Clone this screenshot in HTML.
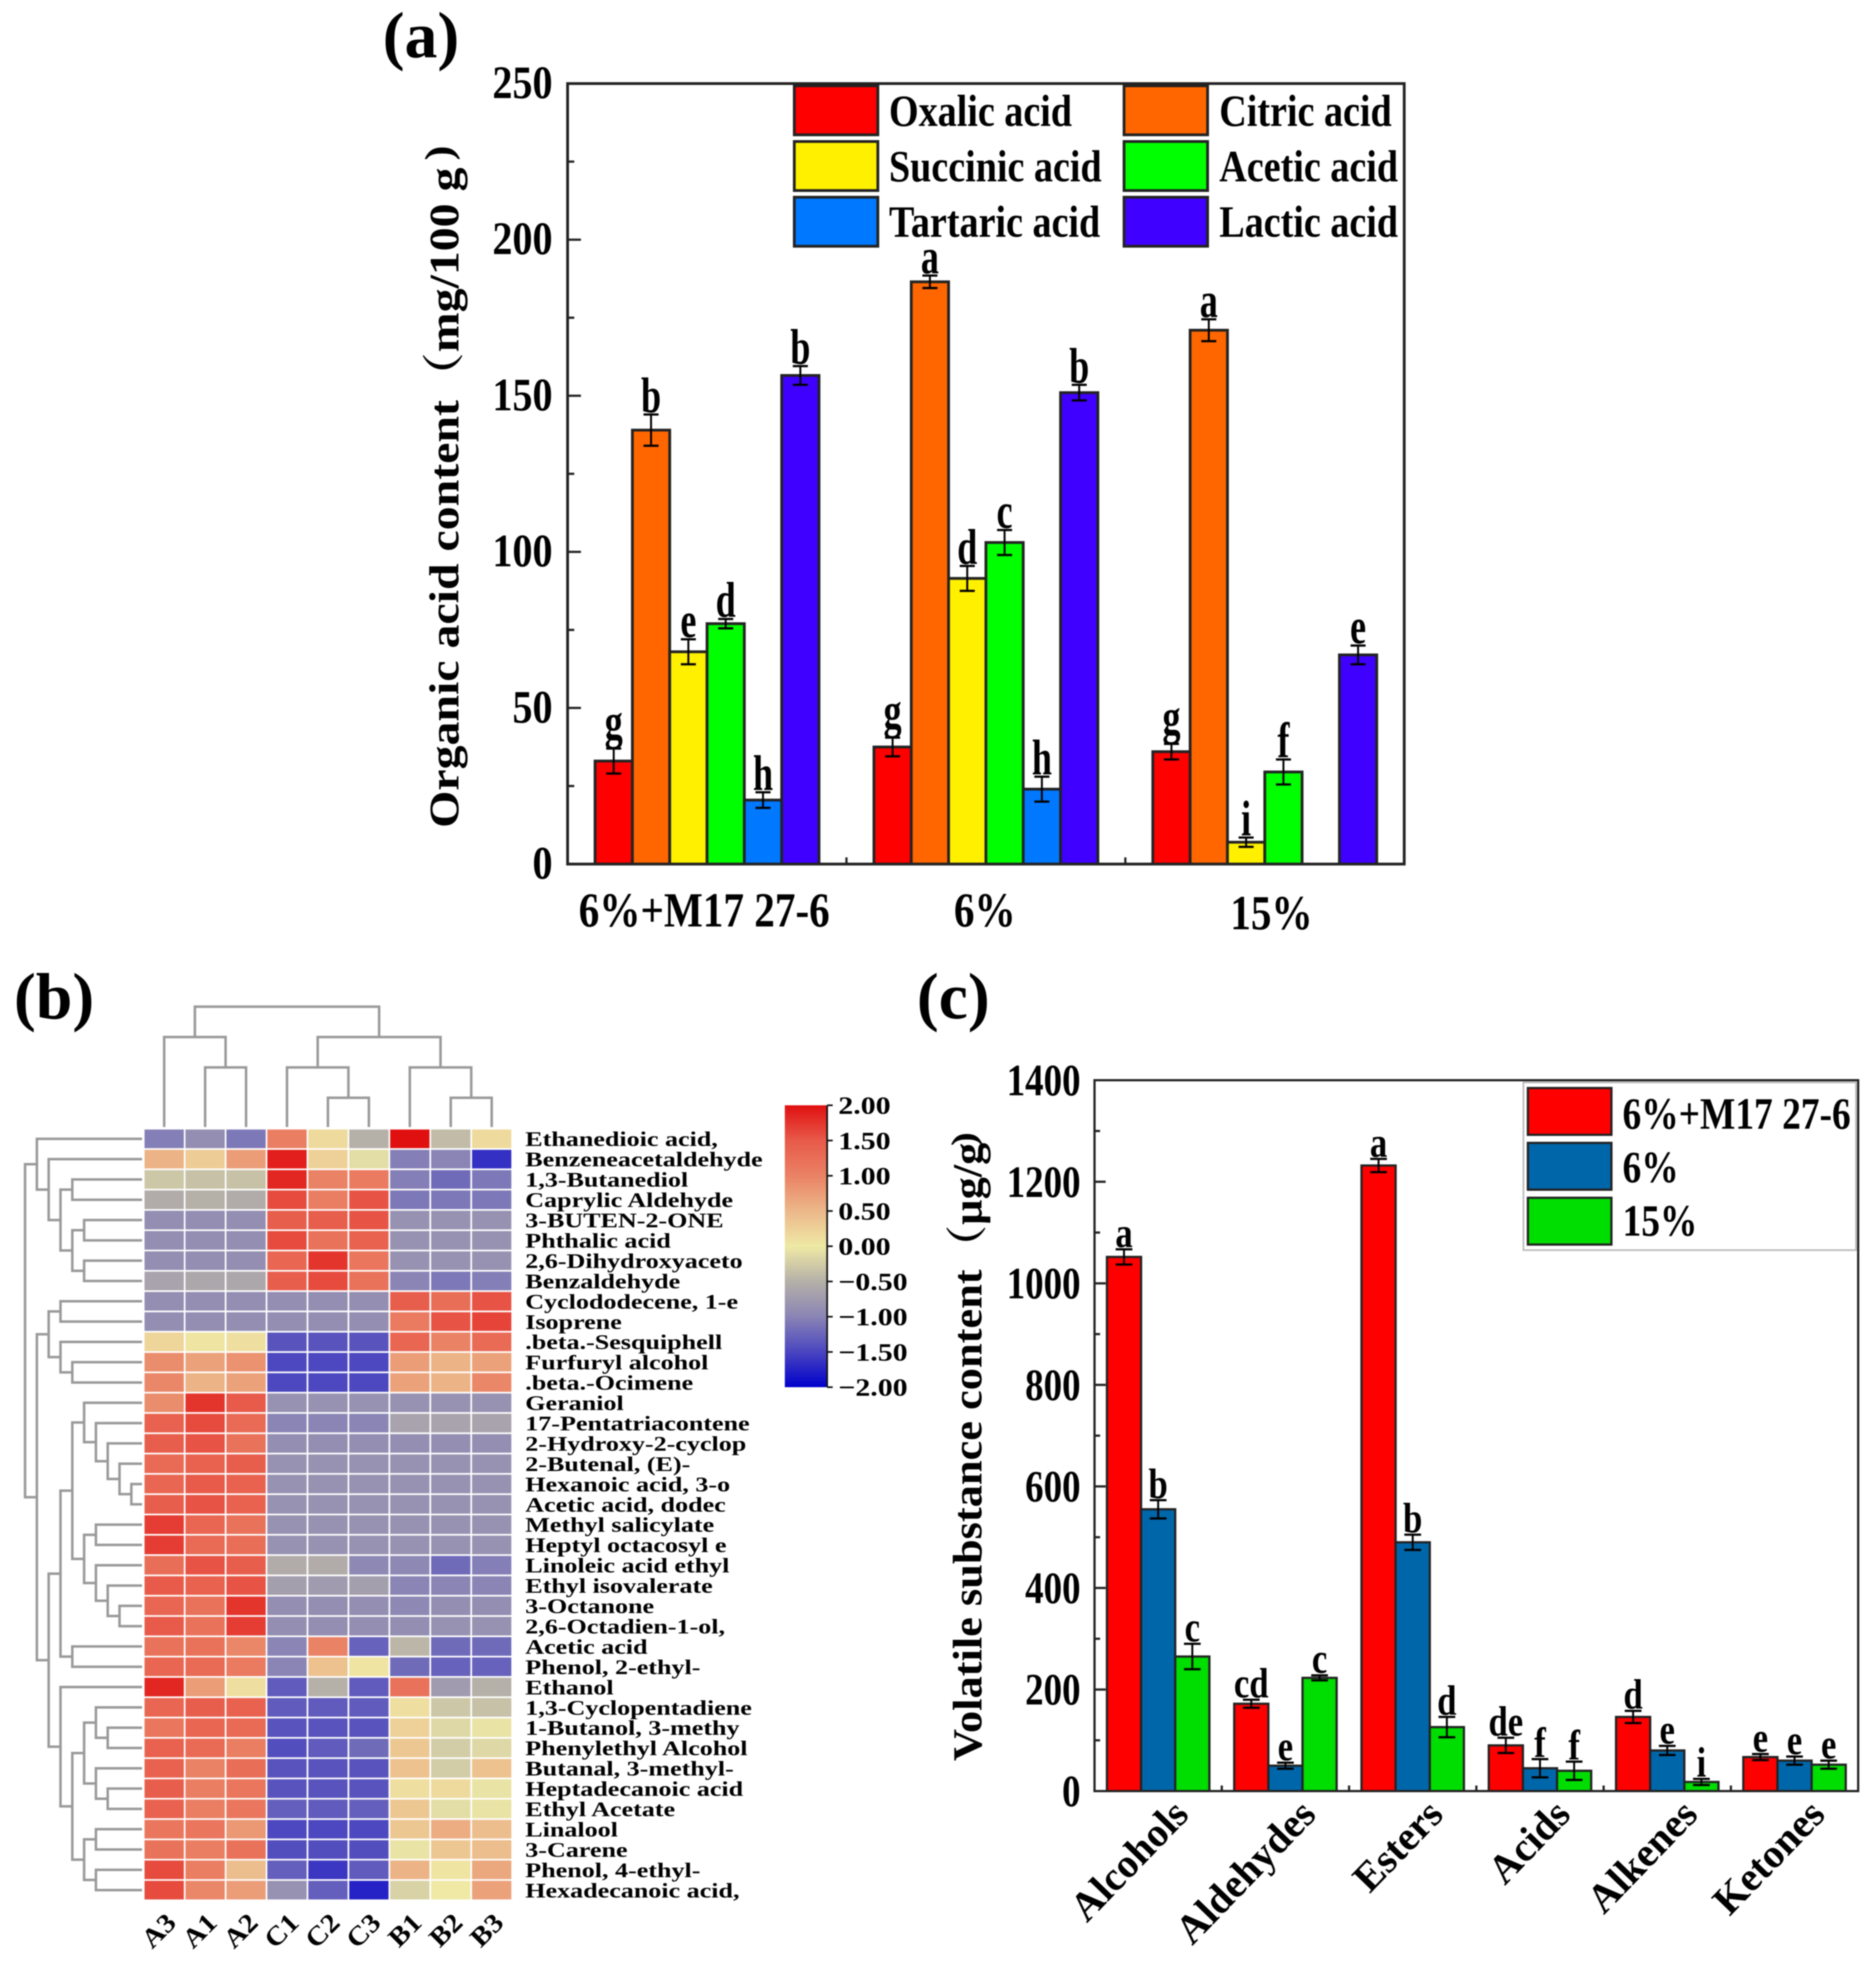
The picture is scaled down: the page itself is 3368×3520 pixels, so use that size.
<!DOCTYPE html>
<html lang="en">
<head>
<meta charset="utf-8">
<title>Organic acids, volatile compound heatmap and volatile classes</title>
<style>
html,body{margin:0;padding:0;background:#fff;width:3368px;height:3520px;overflow:hidden}
svg{display:block;filter:blur(1px)}
text{font-family:"Liberation Serif","Noto Serif CJK SC",serif;font-weight:bold;fill:#000}
</style>
</head>
<body>
<svg id="fig" xmlns="http://www.w3.org/2000/svg" width="3368" height="3520" viewBox="0 0 3368 3520">
<rect width="3368" height="3520" fill="#fff"/>
<g id="panelA"></g>
<g id="panelB"></g>
<g id="panelC"></g>
<text transform="translate(687,103)" font-size="118">(a)</text>
<text transform="translate(25,1828)" font-size="118">(b)</text>
<text transform="translate(1646,1828)" font-size="118">(c)</text>
</svg>
<script>
/* ---------- panel (a) data ---------- */
const aCategories = ['6%+M17 27-6', '6%', '15%'];
const aSeriesNames = ['Oxalic acid', 'Citric acid', 'Succinic acid', 'Acetic acid', 'Tartaric acid', 'Lactic acid'];
const aSeriesColors = ['#ff0000', '#ff6600', '#fff000', '#00ff00', '#0078ff', '#4000ff'];
const aOxalic = [33, 37.5, 36];
const aCitric = [139, 186.5, 171];
const aSuccinic = [68, 91.5, 7];
const aAcetic = [77, 103, 29.5];
const aTartaric = [20.5, 24, null];
const aLactic = [156.5, 151, 67];
const aOxalicErr = [4, 3, 2.5];
const aCitricErr = [5, 2, 3.5];
const aSuccinicErr = [4, 4, 1.5];
const aAceticErr = [1.5, 4, 4];
const aTartaricErr = [2.5, 4, null];
const aLacticErr = [3, 2.5, 3];
const aOxalicSig = ['g', 'g', 'g'];
const aCitricSig = ['b', 'a', 'a'];
const aSuccinicSig = ['e', 'd', 'i'];
const aAceticSig = ['d', 'c', 'f'];
const aTartaricSig = ['h', 'h', ''];
const aLacticSig = ['b', 'b', 'e'];
const aYTicks = [0, 50, 100, 150, 200, 250];
const aYMinorTicks = [25, 75, 125, 175, 225];

/* ---------- panel (c) data ---------- */
const cCategories = ['Alcohols', 'Aldehydes', 'Esters', 'Acids', 'Alkenes', 'Ketones'];
const cSeriesNames = ['6%+M17 27-6', '6%', '15%'];
const cSeriesColors = ['#ff0000', '#0066aa', '#00dd00'];
const cFirst = [1052, 172, 1232, 90, 146, 67];
const cSecond = [555, 50, 490, 45, 80, 60];
const cThird = [265, 223, 126, 40, 18, 52];
const cFirstErr = [15, 8, 13, 15, 12, 6];
const cSecondErr = [18, 6, 15, 18, 9, 8];
const cThirdErr = [25, 5, 20, 18, 6, 8];
const cFirstSig = ['a', 'cd', 'a', 'de', 'd', 'e'];
const cSecondSig = ['b', 'e', 'b', 'f', 'e', 'e'];
const cThirdSig = ['c', 'c', 'd', 'f', 'i', 'e'];
const cYTicks = [0, 200, 400, 600, 800, 1000, 1200, 1400];
const cYMinorTicks = [100, 300, 500, 700, 900, 1100, 1300];

/* ---------- panel (b) data ---------- */
const hColumns = ['A3', 'A1', 'A2', 'C1', 'C2', 'C3', 'B1', 'B2', 'B3'];
const hRows = ['Ethanedioic acid,', 'Benzeneacetaldehyde', '1,3-Butanediol', 'Caprylic Aldehyde', '3-BUTEN-2-ONE', 'Phthalic acid', '2,6-Dihydroxyaceto', 'Benzaldehyde', 'Cyclododecene, 1-e', 'Isoprene', '.beta.-Sesquiphell', 'Furfuryl alcohol', '.beta.-Ocimene', 'Geraniol', '17-Pentatriacontene', '2-Hydroxy-2-cyclop', '2-Butenal, (E)-', 'Hexanoic acid, 3-o', 'Acetic acid, dodec', 'Methyl salicylate', 'Heptyl octacosyl e', 'Linoleic acid ethyl', 'Ethyl isovalerate', '3-Octanone', '2,6-Octadien-1-ol,', 'Acetic acid', 'Phenol, 2-ethyl-', 'Ethanol', '1,3-Cyclopentadiene', '1-Butanol, 3-methy', 'Phenylethyl Alcohol', 'Butanal, 3-methyl-', 'Heptadecanoic acid', 'Ethyl Acetate', 'Linalool', '3-Carene', 'Phenol, 4-ethyl-', 'Hexadecanoic acid,'];
const hValues = [
[-1.05,-.9,-1.1,1.05,.15,-.5,2,-.4,.15],
[.55,.3,.75,1.9,.25,-.1,-1.05,-1,-1.65],
[-.3,-.35,-.35,1.85,1,1.1,-1.05,-1.2,-1.1],
[-.55,-.5,-.55,1.6,1.05,1.55,-1.1,-1.1,-1.1],
[-.9,-.9,-.9,1.45,1.45,1.55,-.85,-.85,-.85],
[-.9,-.9,-.9,1.6,1.2,1.4,-.85,-.85,-.85],
[-.9,-.9,-.9,1.35,1.75,1.15,-.85,-.85,-.85],
[-.65,-.6,-.6,1.45,1.6,1.2,-1,-1.1,-1.05],
[-.9,-.9,-.9,-.9,-.9,-.9,1.45,1.25,1.55],
[-.9,-.9,-.9,-.9,-.9,-.9,1.1,1.55,1.65],
[.2,.05,.1,-1.38,-1.38,-1.38,1.35,1,1.3],
[.9,.7,.85,-1.48,-1.48,-1.48,.75,.55,.7],
[.95,.55,.7,-1.48,-1.48,-1.48,.7,.55,.95],
[.9,1.75,1.5,-.85,-.85,-.85,-.85,-.85,-.85],
[1.4,1.6,1.3,-1,-1,-1,-.65,-.65,-.65],
[1.45,1.55,1.2,-.9,-.9,-.9,-.9,-.9,-.9],
[1.3,1.4,1.45,-.85,-.85,-.85,-.85,-.85,-.85],
[1.35,1.5,1.4,-.85,-.85,-.85,-.85,-.85,-.85],
[1.45,1.55,1.4,-.85,-.85,-.85,-.85,-.85,-.85],
[1.7,1.35,1.2,-.85,-.85,-.85,-.85,-.85,-.85],
[1.7,1.3,1.25,-.85,-.85,-.85,-.85,-.85,-.85],
[1.25,1.55,1.45,-.55,-.55,-.95,-.95,-1.2,-1.05],
[1.5,1.4,1.55,-.7,-.75,-.7,-1,-1,-1],
[1.35,1.2,1.75,-.9,-.9,-.9,-.95,-.9,-.9],
[1.5,1.2,1.7,-.9,-.9,-.9,-.9,-.85,-.85],
[1.2,1.2,.95,-1,1,-1.27,-.45,-1.2,-1.2],
[1.35,1.3,1.1,-1,.4,.05,-1.2,-1.27,-1.27],
[1.85,.75,.1,-1.33,-.5,-1.33,1.2,-.75,-.5],
[1.35,1.45,1.4,-1.33,-1.33,-1.33,.1,-.3,-.35],
[1.15,1.35,1.3,-1.38,-1.38,-1.38,.25,-.15,-.05],
[1.4,1.3,1.05,-1.43,-1.33,-1.2,.35,-.25,-.15],
[1.4,1,1.25,-1.38,-1.38,-1.38,.4,-.25,.4],
[1.45,1.05,1.15,-1.38,-1.38,-1.38,.1,.15,-.05],
[1.4,1.05,1.15,-1.3,-1.33,-1.3,.35,-.1,-.05],
[1.15,1.15,.8,-1.48,-1.48,-1.48,.35,.6,.45],
[1.2,1.05,1.2,-1.43,-1.43,-1.43,-.05,.35,.45],
[1.6,1.05,.45,-1.3,-1.6,-1.33,.55,.05,.65],
[1.6,.95,.75,-.85,-1.3,-1.75,-.2,0,.7]
];
const hScaleValues = [-2, -1.5, -1, -0.5, 0, 0.5, 1, 1.5, 2];
const hScaleColors = ['#0000cc', '#4a45c0', '#8a85b5', '#b5b0a8', '#efe9a5', '#ecb88a', '#ea8265', '#e85a4a', '#e01010'];
const hScaleLabels = ['2.00', '1.50', '1.00', '0.50', '0.00', '\u22120.50', '\u22121.00', '\u22121.50', '\u22122.00'];
/* dendrogram merges: [depth, childA, childB]; a bare number is a leaf index */
const hColumnTree = [0,[1,0,[2,1,2]],[1,[2,3,[3,4,5]],[2,6,[3,7,8]]]];
const hRowTree = [0,
  [1,0,[2,1,[3,[4,2,3],[4,[5,4,5],[5,6,7]]]]],
  [1,
    [2,[3,8,9],[3,10,[4,11,12]]],
    [2,
      [3,[4,[5,13,[6,14,[7,15,[8,16,[9,17,18]]]]],[5,[6,19,20],[6,21,[7,22,[8,23,24]]]]],[4,25,26]],
      [3,27,[4,[5,[6,28,[7,29,30]],[6,31,[7,32,33]]],[5,[6,34,35],[6,36,37]]]]
    ]
  ]
];

/* ---------- helpers ---------- */
const NS = 'http://www.w3.org/2000/svg';
function make(parent, tag, attrs) {
  const el = document.createElementNS(NS, tag);
  for (const k in attrs) el.setAttribute(k, attrs[k]);
  parent.appendChild(el);
  return el;
}
function label(parent, str, x, y, fs, sx, anchor, rot) {
  const attrs = {'font-size': fs, 'text-anchor': anchor || 'start',
    transform: 'translate(' + x + ',' + y + ') rotate(' + (rot || 0) + ') scale(' + (sx || 1) + ',1)'};
  const el = make(parent, 'text', attrs);
  el.textContent = str;
  return el;
}
function seg(parent, x1, y1, x2, y2, w, color) {
  return make(parent, 'line', {x1: x1, y1: y1, x2: x2, y2: y2, stroke: color, 'stroke-width': w});
}

/* ---------- generic grouped bar panel ---------- */
function drawBars(panel, cfg) {
  const bandW = (cfg.right - cfg.left) / cfg.categories.length;
  const barW = bandW * cfg.fill / cfg.series.length;
  const yOf = v => cfg.bottom - v / cfg.max * (cfg.bottom - cfg.top);
  const groupStart = i => cfg.left + bandW * i + (bandW - barW * cfg.series.length) / 2;
  cfg.series.forEach((vals, s) => {
    vals.forEach((v, i) => {
      if (v === null) return;
      const x = groupStart(i) + barW * s;
      const r = make(panel, 'rect', {x: x, y: yOf(v), width: barW, height: cfg.bottom - yOf(v), fill: cfg.colors[s], stroke: '#222', 'stroke-width': cfg.barStroke});
      
      
    });
  });
  const frame = make(panel, 'rect', {x: cfg.left, y: cfg.top, width: cfg.right - cfg.left, height: cfg.bottom - cfg.top, fill: 'none', stroke: '#222', 'stroke-width': cfg.frameStroke});
  
  
  cfg.yTicks.forEach(v => {
    const t = seg(panel, cfg.left, yOf(v), cfg.left + cfg.majorLen, yOf(v), 4, '#222');
    
    
    const tl = label(panel, String(v), cfg.left - cfg.tickGap, yOf(v) + cfg.tickBase, cfg.tickFs, cfg.tickSx, 'end');
    
    
  });
  cfg.yMinor.forEach(v => {
    const t = seg(panel, cfg.left, yOf(v), cfg.left + cfg.majorLen / 2, yOf(v), 4, '#222');
    
    
  });
  for (let i = 1; i < cfg.categories.length; i++) {
    const bx = cfg.left + bandW * i;
    const t = seg(panel, bx, cfg.bottom, bx, cfg.bottom - cfg.majorLen / 2, 4, '#222');
    
    
  }
  cfg.series.forEach((vals, s) => {
    vals.forEach((v, i) => {
      if (v === null) return;
      const cx = groupStart(i) + barW * (s + .5);
      const e = cfg.errors[s][i];
      const hi = yOf(v + e), lo = yOf(v - e);
      const stem = seg(panel, cx, hi, cx, lo, 3.5, '#000');
      
      
      const capA = seg(panel, cx - cfg.capW / 2, hi, cx + cfg.capW / 2, hi, 4, '#000');
      
      
      const capB = seg(panel, cx - cfg.capW / 2, lo, cx + cfg.capW / 2, lo, 4, '#000');
      
      
      const sig = cfg.sig[s][i];
      if (sig) {
        const sl = label(panel, sig, cx, hi - (sig === 'g' ? cfg.sigDrop : cfg.sigGap), cfg.sigFs, cfg.sigSx, 'middle');
        
        
      }
    });
  });
  return {bandW: bandW};
}

/* ---------- panel (a) ---------- */
const panelA = document.getElementById('panelA');
const aInfo = drawBars(panelA, {
  id: 'a', left: 1019, right: 2521, top: 150, bottom: 1551, max: 250,
  categories: aCategories, colors: aSeriesColors,
  series: [aOxalic, aCitric, aSuccinic, aAcetic, aTartaric, aLactic],
  errors: [aOxalicErr, aCitricErr, aSuccinicErr, aAceticErr, aTartaricErr, aLacticErr],
  sig: [aOxalicSig, aCitricSig, aSuccinicSig, aAceticSig, aTartaricSig, aLacticSig],
  yTicks: aYTicks, yMinor: aYMinorTicks, fill: .803, barStroke: 5, frameStroke: 5,
  majorLen: 24, tickGap: 27, tickBase: 26, tickFs: 84, tickSx: .857,
  capW: 27, sigFs: 90, sigSx: .72, sigDrop: 18, sigGap: 4
});
aCategories.forEach((c, i) => {
  const nudge = i === 2 ? 12 : (i === 0 ? -5 : -2);
  const t = label(panelA, c, 1019 + aInfo.bandW * (i + .5) + nudge, i === 2 ? 1668 : 1663, 88, .84, 'middle');
  
  
});
const aTitle = label(panelA, 'Organic acid content（mg/100 g', 823, 1486, 75, 1.145, 'start', -90);


const aTitleEnd = label(panelA, ')', 811, 288, 70, 1.15, 'start', -90);


aSeriesNames.forEach((n, i) => {
  const col = i % 2, row = Math.floor(i / 2);
  const sw = make(panelA, 'rect', {x: 1426 + col * 592, y: 154 + row * 100, width: 150, height: 88, fill: aSeriesColors[i], stroke: '#222', 'stroke-width': 5});
  
  
  const t = label(panelA, n, 1596 + col * 593, 226 + row * 99.5, 80, .855);
  
  
});

/* ---------- panel (c) ---------- */
const panelC = document.getElementById('panelC');
const cInfo = drawBars(panelC, {
  id: 'c', left: 1965, right: 3336, top: 1939, bottom: 3215, max: 1400,
  categories: cCategories, colors: cSeriesColors,
  series: [cFirst, cSecond, cThird],
  errors: [cFirstErr, cSecondErr, cThirdErr],
  sig: [cFirstSig, cSecondSig, cThirdSig],
  yTicks: cYTicks, yMinor: cYMinorTicks, fill: .805, barStroke: 4, frameStroke: 4,
  majorLen: 20, tickGap: 25, tickBase: 27, tickFs: 80, tickSx: .83,
  capW: 30, sigFs: 76, sigSx: .82, sigDrop: 10, sigGap: 4
});
cCategories.forEach((c, i) => {
  const t = label(panelC, c, 1965 + cInfo.bandW * (i + .5) + 58, 3260, 73, 1, 'end', -46);
  
  
});
const cTitle = label(panelC, 'Volatile substance content（µg/g', 1762, 3161, 74, 1.077, 'start', -90);


const cTitleEnd = label(panelC, ')', 1751, 2057, 62, 1.2, 'start', -90);


const cLegendBox = make(panelC, 'rect', {x: 2735, y: 1943, width: 597, height: 301, fill: '#fff', stroke: '#bbb', 'stroke-width': 3});


cSeriesNames.forEach((n, i) => {
  const sw = make(panelC, 'rect', {x: 2743, y: 1953 + i * 98.5, width: 150, height: 84, fill: cSeriesColors[i], stroke: '#222', 'stroke-width': 4});
  
  
  const t = label(panelC, n, 2913, 2026 + i * 96, 80, .84);
  
  
});

/* ---------- panel (b) ---------- */
const panelB = document.getElementById('panelB');
const hLeft = 258, hTop = 2026, colW = 73.5, rowH = (3411 - 2026) / hRows.length;
const hex = c => [1, 3, 5].map(i => parseInt(c.substr(i, 2), 16));
function heatColor(v) {
  const t = Math.max(-2, Math.min(2, v));
  let k = 0;
  while (k < hScaleValues.length - 2 && t > hScaleValues[k + 1]) k++;
  const f = (t - hScaleValues[k]) / (hScaleValues[k + 1] - hScaleValues[k]);
  const a = hex(hScaleColors[k]), b = hex(hScaleColors[k + 1]);
  return 'rgb(' + a.map((x, i) => Math.round(x + (b[i] - x) * f)).join(',') + ')';
}
const colCenter = i => hLeft + colW * (i + .5);
const rowCenter = i => hTop + rowH * (i + .5);

hValues.forEach((row, r) => {
  row.forEach((v, c) => {
    const cell = make(panelB, 'rect', {x: hLeft + colW * c + 1.5, y: hTop + rowH * r + 1.5, width: colW - 3, height: rowH - 3, fill: heatColor(v)});
    
    
  });
});
hRows.forEach((n, r) => {
  const t = label(panelB, n, 943, rowCenter(r) + 13, 37, 1.265);
  
  
});
hColumns.forEach((n, c) => {
  const t = label(panelB, n, colCenter(c) + 24, 3454, 48, 1.1, 'end', -45);
  
  
});

/* dendrograms */
const columnDepthY = d => 1807 + d * 54.5;
const rowDepthX = d => 45 + d * 21.2;
function drawColumnTree(node) {
  if (typeof node === 'number') return {x: colCenter(node), y: 2023};
  const a = drawColumnTree(node[1]), b = drawColumnTree(node[2]);
  const y = columnDepthY(node[0]);
  const p = make(panelB, 'path', {d: 'M' + a.x + ' ' + a.y + 'V' + y + 'H' + b.x + 'V' + b.y, fill: 'none', stroke: '#999', 'stroke-width': 4.5});
  
  
  return {x: (a.x + b.x) / 2, y: y};
}
function drawRowTree(node) {
  if (typeof node === 'number') return {x: 255, y: rowCenter(node)};
  const a = drawRowTree(node[1]), b = drawRowTree(node[2]);
  const x = rowDepthX(node[0]);
  const p = make(panelB, 'path', {d: 'M' + a.x + ' ' + a.y + 'H' + x + 'V' + b.y + 'H' + b.x, fill: 'none', stroke: '#999', 'stroke-width': 4.5});
  
  
  return {x: x, y: (a.y + b.y) / 2};
}
drawColumnTree(hColumnTree);
drawRowTree(hRowTree);

/* colour bar */
const defs = make(panelB, 'defs', {});
const grad = make(defs, 'linearGradient', {id: 'heatScale', x1: 0, y1: 1, x2: 0, y2: 0});
hScaleValues.forEach((v, i) => {
  make(grad, 'stop', {offset: (v + 2) / 4, 'stop-color': hScaleColors[i]});
});
const barY = v => 1984 + (2 - v) / 4 * 506;
const cbar = make(panelB, 'rect', {x: 1409, y: barY(2), width: 75, height: barY(-2) - barY(2), fill: 'url(#heatScale)'});


const cbarAxis = seg(panelB, 1485, barY(2), 1485, barY(-2), 3, '#111');


hScaleLabels.forEach((s, i) => {
  const y = barY(2) + i * (barY(-2) - barY(2)) / (hScaleLabels.length - 1);
  const tk = seg(panelB, 1485, y, 1495, y, 3, '#111');
  
  
  const t = label(panelB, s, 1505, y + 15, 44, 1.22);
  
  
});
</script>
</body>
</html>
